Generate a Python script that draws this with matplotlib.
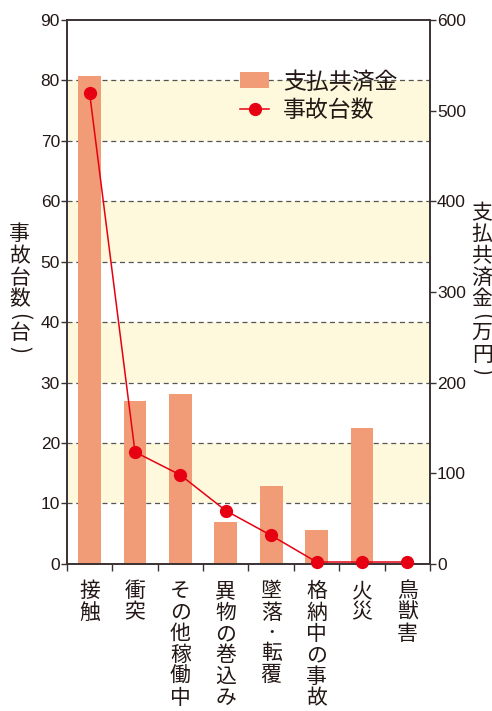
import matplotlib
matplotlib.use("Agg")
import matplotlib.pyplot as plt
from matplotlib.lines import Line2D
from matplotlib.patches import Rectangle
from matplotlib.transforms import blended_transform_factory
import numpy as np

plt.rcParams["font.family"] = ["Noto Sans CJK JP", "DejaVu Sans"]

categories = ["接触", "衝突", "その他稼働中", "異物の巻込み", "墜落・転覆", "格納中の事故", "火災", "鳥獣害"]
payments = [538, 180, 187, 46, 86, 37, 150, 1]        # 支払共済金 (万円), right axis
accidents = [77.9, 18.5, 14.7, 8.8, 4.7, 0.3, 0.3, 0.3]  # 事故台数 (台), left axis
left_ticks = list(range(0, 91, 10))
right_ticks = list(range(0, 601, 100))
band_ranges = [(10, 20), (30, 40), (50, 60), (70, 80)]
grid_levels = [10, 20, 30, 40, 50, 60, 70, 80]

BAR = "#f29b77"
RED = "#e60012"
BAND = "#fef9dc"
SPINE = "#3a3232"
TEXT = "#231815"
NUMFONT = ["Liberation Sans", "DejaVu Sans"]


def vertical_text(ax, xy, xycoords, chars, size, step, x_off=0, top=None):
    """Write Japanese text top-to-bottom, one glyph under the other."""
    adv = []
    for ch in chars:
        if ch in "()":
            adv.append(step * 0.55)
        elif ch == "・":
            adv.append(step * 0.9)
        else:
            adv.append(step)
    if top is None:
        y = sum(adv) / 2.0   # centre the column on xy
    else:
        y = top
    for ch, a in zip(chars, adv):
        y -= a / 2.0
        rot = -90 if ch in "()" else 0
        fs = size * 0.6 if ch == "・" else size
        ax.annotate(ch, xy=xy, xycoords=xycoords, xytext=(x_off, y),
                    textcoords="offset points", ha="center", va="center",
                    rotation=rot, fontsize=fs, color=TEXT,
                    fontweight="bold" if ch == "・" else "normal",
                    annotation_clip=False)
        y -= a / 2.0


fig = plt.figure(figsize=(4.92, 7.11), dpi=100)
ax = fig.add_axes([0.136, 0.207, 0.738, 0.765])   # line axis (left scale)
ax2 = ax.twinx()                                   # bar axis (right scale)
ax.set_zorder(ax2.get_zorder() + 1)
ax.patch.set_visible(False)

x = np.arange(len(categories))

# bands and dashed grid on the lower axes, in left-axis units
tr = blended_transform_factory(ax2.transAxes, ax.transData)
for lo, hi in band_ranges:
    ax2.add_patch(Rectangle((0, lo), 1, hi - lo, transform=tr, facecolor=BAND,
                            edgecolor="none", zorder=0))
for g in grid_levels:
    ax2.add_line(Line2D([0, 1], [g, g], transform=tr, color="#555555",
                        lw=0.9, ls=(0, (4, 3)), zorder=1))

bars = ax2.bar(x, payments, width=0.5, color=BAR, zorder=2, label="支払共済金")
line, = ax.plot(x, accidents, color=RED, lw=1.1, marker="o", markersize=8.5,
                zorder=3, label="事故台数", clip_on=False)

ax.set_xlim(-0.5, len(categories) - 0.5)
ax.set_ylim(0, 90)
ax2.set_ylim(0, 600)
ax.set_yticks(left_ticks)
ax2.set_yticks(right_ticks)

ax.set_xticks(x)
ax.set_xticklabels([""] * len(categories))
ax.set_xticks(np.arange(-0.5, len(categories), 1), minor=True)
ax.tick_params(axis="x", which="major", length=0)
ax.tick_params(axis="x", which="minor", length=5, width=1, color=SPINE, direction="out")
ax2.tick_params(axis="x", which="both", length=0)

for a in (ax, ax2):
    a.tick_params(axis="y", length=4, width=1, color=SPINE, labelsize=12.5,
                  labelcolor=TEXT, pad=1)
    for lab in a.get_yticklabels():
        lab.set_fontfamily(NUMFONT)
    for s in a.spines.values():
        s.set_color(SPINE)
        s.set_linewidth(1.2)

# category labels, written vertically under each bar
for i, cat in enumerate(categories):
    vertical_text(ax, (i, 0), ("data", "axes fraction"), cat, 15, 15.4, top=-12)

# axis titles
vertical_text(ax, (0, 0.504), "axes fraction", "事故台数(台)", 15, 15.6, x_off=-34)
vertical_text(ax, (1, 0.504), "axes fraction", "支払共済金(万円)", 15, 15.6, x_off=37.5)

ax.legend([bars, line], ["支払共済金", "事故台数"], loc="upper left",
          bbox_to_anchor=(0.42, 0.945), frameon=False, fontsize=16.5,
          handlelength=1.27, handleheight=0.7, handletextpad=0.6,
          labelspacing=0.25, labelcolor=TEXT)

fig.savefig("out.png", dpi=100)
